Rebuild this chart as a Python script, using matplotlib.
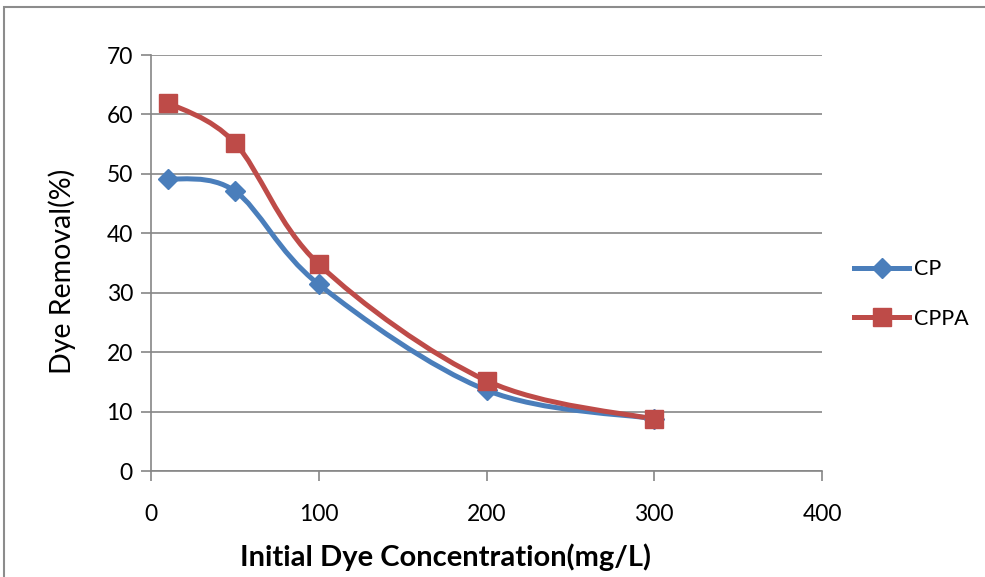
import matplotlib
matplotlib.use("Agg")
import matplotlib.pyplot as plt
from matplotlib.path import Path
from matplotlib.patches import PathPatch, Rectangle
from matplotlib.lines import Line2D
import numpy as np

plt.rcParams['font.family'] = ['Lato', 'DejaVu Sans']

x_conc = [10, 50, 100, 200, 300]
cp = [49.2, 47.1, 31.4, 13.6, 8.8]
cppa = [62.0, 55.2, 34.8, 15.2, 8.7]
series_names = ["CP", "CPPA"]
x_ticks = [0, 100, 200, 300, 400]
y_ticks = [0, 10, 20, 30, 40, 50, 60, 70]

blue = '#4A7EBB'
red = '#BE4B48'

W, H = 985, 577
fig = plt.figure(figsize=(W/100, H/100), dpi=100)
ax = fig.add_axes([151/W, 1-471/H, (822-151)/W, (471-55)/H])

def smooth_path(xs, ys):
    pts = np.column_stack([xs, ys]).astype(float)
    n = len(pts)
    verts = [pts[0]]
    codes = [Path.MOVETO]
    for i in range(n-1):
        p0 = pts[i-1] if i > 0 else pts[i]
        p1 = pts[i]
        p2 = pts[i+1]
        p3 = pts[i+2] if i+2 < n else pts[i+1]
        c1 = p1 + (p2 - p0)/6
        c2 = p2 - (p3 - p1)/6
        verts += [c1, c2, p2]
        codes += [Path.CURVE4]*3
    return Path(verts, codes)

for ys, col, mk, ms in [(cp, blue, 'D', 10), (cppa, red, 's', 13)]:
    ax.add_patch(PathPatch(smooth_path(x_conc, ys), fill=False, edgecolor=col, lw=3.6, zorder=3))
    ax.plot(x_conc, ys, linestyle='none', marker=mk, markersize=ms, color=col, zorder=4)

ax.set_xlim(0, 400)
ax.set_ylim(0, 70)
ax.set_xticks(x_ticks)
ax.set_yticks(y_ticks)
ax.tick_params(axis='both', labelsize=16.5, colors='#868686', labelcolor='black', length=7, width=1.2, direction='out')
ax.tick_params(axis='x', pad=17)
ax.tick_params(axis='y', pad=6)
ax.grid(axis='y', color='#868686', lw=1.2)
ax.set_axisbelow(True)
for s in ['top', 'right']:
    ax.spines[s].set_visible(False)
for s in ['left', 'bottom']:
    ax.spines[s].set_color('#868686')
    ax.spines[s].set_linewidth(1.2)

fig.text(62/W, 1-271/H, "Dye Removal(%)", rotation=90, fontsize=20.5, ha='center', va='center')
fig.text(446/W, 1-557/H, "Initial Dye Concentration(mg/L)", fontsize=21, fontweight='bold', ha='center', va='center')

handles = [Line2D([], [], color=blue, lw=3.6, marker='D', markersize=10),
           Line2D([], [], color=red, lw=3.6, marker='s', markersize=13)]
fig.legend(handles, series_names, loc='center left', bbox_to_anchor=(835/W, 1-294/H),
           frameon=False, fontsize=15.5, handlelength=2.55, handletextpad=0.2, labelspacing=1.35,
           borderpad=0.4)

fig.patches.append(Rectangle((4/W, -0.1), 1.2, 1+0.1-7/H, transform=fig.transFigure,
                             fill=False, edgecolor='#8c8c8c', lw=1.5))

fig.savefig("out.png", dpi=100)
